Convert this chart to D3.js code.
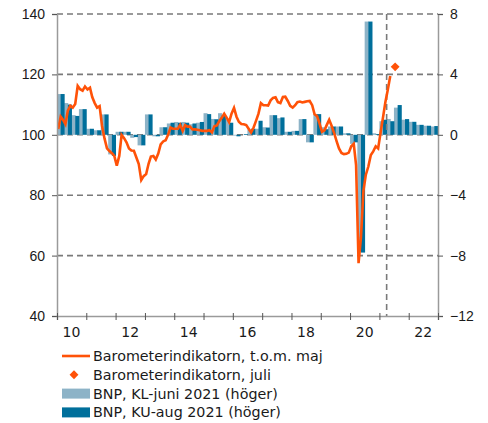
<!DOCTYPE html>
<html lang="sv">
<head>
    <meta charset="UTF-8">
    <script src="https://d3js.org/d3.v7.min.js"></script>
    <title>Barometerindikatorn och BNP</title>
    <style>
        body {
            margin: 0;
            font-family: "DejaVu Sans", Verdana, sans-serif;
            background: #fff;
        }
        .tick text {
            font-size: 14px;
            fill: #1a1a1a;
        }
        .grid line {
            stroke: #7a7a7a;
            stroke-width: 1.6;
            stroke-dasharray: 6,4;
        }
        .legend text {
            font-size: 14.3px;
            fill: #1a1a1a;
        }
    </style>
</head>
<body>
    <div id="chart"></div>

    <script>
        // Barometerindikatorn, monthly Jan 2010 - May 2021
        const barometer = [
            101.9, 106.0, 105.0, 103.5, 108.0, 109.6, 109.0, 110.2, 116.2, 115.1, 114.6, 116.0,
            115.0, 115.6, 112.5, 110.5, 109.0, 109.5, 103.0, 98.8, 95.5, 94.6, 93.9, 93.0,
            89.8, 93.0, 100.0, 98.9, 97.5, 95.5, 94.8, 94.7, 92.5, 90.3, 85.0, 86.3,
            87.0, 90.5, 92.8, 93.0, 91.8, 93.8, 96.8, 97.8, 98.2, 100.0, 102.4, 102.0,
            102.0, 102.0, 103.3, 101.3, 103.2, 102.7, 102.7, 101.8, 101.8, 101.7, 101.5, 101.3,
            101.3, 101.3, 101.5, 100.8, 102.8, 103.1, 104.5, 105.6, 107.0, 105.7, 104.2, 107.0,
            108.9, 106.0, 104.3, 103.6, 103.5, 103.2, 102.0, 100.8, 102.4, 104.6, 107.0, 110.5,
            109.8, 109.8, 109.7, 111.4, 112.2, 112.4, 110.8, 110.5, 112.5, 112.6, 111.2, 109.6,
            109.0, 109.8, 110.8, 111.0, 110.7, 110.9, 111.1, 111.2, 109.8, 106.8, 106.2, 103.8,
            101.0, 101.5, 103.2, 105.0, 103.0, 100.6, 98.0, 95.5, 94.0, 93.6, 93.7, 94.1,
            96.2, 97.0, 90.0, 57.5, 66.0, 81.5, 86.8, 89.5, 93.3, 94.5, 96.2, 95.5,
            100.8, 106.0, 110.8, 115.0, 119.5
        ];
        const barometerStart = [2010, 0];

        // Barometerindikatorn, juli 2021
        const julyPoint = { year: 2021, month: 6, value: 122.5 };

        // BNP, quarterly change in percent, 2010 Q1 - 2022 Q4
        const gdpJune = [
            2.7, 2.1, 1.3, 1.7,
            0.4, 0.3, 1.35, -1.3,
            0.2, 0.2, -0.2, -0.7,
            1.35, -0.1, 0.5, 0.75,
            0.85, 0.85, 0.7, 0.8,
            1.43, 1.05, 1.43, 1.0,
            -0.05, 0.0, 0.35, 0.4,
            0.5, 1.3, 1.1, 0.2,
            0.26, 1.04, -0.5, 1.37,
            0.5, 0.55, 0.55, 0.1,
            -0.6, -7.7, 7.5, 0.1,
            0.9, 1.05, 1.8, 1.0,
            0.86, 0.66, 0.6, 0.55
        ];
        const gdpAug = [
            2.7, 2.0, 1.25, 1.7,
            0.4, 0.3, 1.35, -1.4,
            0.2, 0.2, -0.15, -0.7,
            1.35, -0.1, 0.5, 0.8,
            0.8, 0.8, 0.75, 0.85,
            1.37, 1.03, 1.3, 0.8,
            -0.1, 0.05, 0.4, 0.93,
            0.48, 1.3, 1.15, 0.2,
            0.26, 1.04, -0.5, 1.37,
            0.37, 0.55, 0.55, 0.1,
            -0.5, -7.8, 7.5, 0.05,
            1.0, 0.9, 1.97, 1.04,
            0.86, 0.66, 0.6, 0.58
        ];
        const gdpStartYear = 2010;

        const leftTicks = [40, 60, 80, 100, 120, 140];
        const rightTicks = [-12, -8, -4, 0, 4, 8];
        const yearLabels = [2010, 2012, 2014, 2016, 2018, 2020, 2022];
        const forecastLine = new Date(2021, 3, 1);

        const legendItems = [
            "Barometerindikatorn, t.o.m. maj",
            "Barometerindikatorn, juli",
            "BNP, KL-juni 2021 (höger)",
            "BNP, KU-aug 2021 (höger)"
        ];

        const orange = "#ff5208";
        const lightBlue = "#8db3c7";
        const darkBlue = "#006f9b";
        const axisGray = "#9a9a9a";

        const W = 488, H = 423;
        const margin = { top: 14, right: 50, bottom: 107, left: 57 };
        const width = W - margin.left - margin.right;
        const height = H - margin.top - margin.bottom;

        const svg = d3.select("#chart")
            .append("svg")
            .attr("width", W)
            .attr("height", H);

        const g = svg.append("g")
            .attr("transform", `translate(${margin.left},${margin.top})`);

        const x = d3.scaleTime()
            .domain([new Date(2010, 0, 1), new Date(2023, 0, 1)])
            .range([0, width]);
        const yL = d3.scaleLinear().domain([40, 140]).range([height, 0]);
        const yR = d3.scaleLinear().domain([-12, 8]).range([height, 0]);

        // grid lines (dashed)
        g.append("g")
            .attr("class", "grid")
            .selectAll("line")
            .data(leftTicks.filter(d => d > 40))
            .join("line")
            .attr("x1", 0)
            .attr("x2", width)
            .attr("y1", d => yL(d))
            .attr("y2", d => yL(d));

        // bars
        const quarters = gdpJune.map((v, i) => {
            const yr = gdpStartYear + Math.floor(i / 4);
            const q = i % 4;
            return {
                start: new Date(yr, q * 3, 1),
                end: new Date(yr, q * 3 + 3, 1),
                june: v,
                aug: gdpAug[i]
            };
        });

        g.append("g")
            .selectAll("rect")
            .data(quarters)
            .join("rect")
            .attr("x", d => x(d.start))
            .attr("width", d => (x(d.end) - x(d.start)) * 0.56)
            .attr("y", d => yR(Math.max(0, d.june)))
            .attr("height", d => Math.abs(yR(d.june) - yR(0)))
            .attr("fill", lightBlue);

        g.append("g")
            .selectAll("rect")
            .data(quarters)
            .join("rect")
            .attr("x", d => x(d.start) + (x(d.end) - x(d.start)) * 0.5)
            .attr("width", d => (x(d.end) - x(d.start)) * 0.56)
            .attr("y", d => yR(Math.max(0, d.aug)))
            .attr("height", d => Math.abs(yR(d.aug) - yR(0)))
            .attr("fill", darkBlue);

        // vertical dashed line
        g.append("g")
            .attr("class", "grid")
            .append("line")
            .attr("x1", x(forecastLine))
            .attr("x2", x(forecastLine))
            .attr("y1", 0)
            .attr("y2", height);

        // barometer line
        const baroData = barometer.map((v, i) => ({
            date: new Date(barometerStart[0], barometerStart[1] + i, 16),
            value: v
        }));

        g.append("path")
            .datum(baroData)
            .attr("fill", "none")
            .attr("stroke", orange)
            .attr("stroke-width", 2.6)
            .attr("stroke-linejoin", "miter")
            .attr("d", d3.line().x(d => x(d.date)).y(d => yL(d.value)));

        const jx = x(new Date(julyPoint.year, julyPoint.month, 16));
        g.append("path")
            .attr("d", d3.symbol().type(d3.symbolDiamond2).size(50)())
            .attr("transform", `translate(${jx},${yL(julyPoint.value)})`)
            .attr("fill", orange);

        // axes
        const leftAxis = g.append("g")
            .call(d3.axisLeft(yL).tickValues(leftTicks).tickSize(5).tickPadding(7));
        const rightAxis = g.append("g")
            .attr("transform", `translate(${width},0)`)
            .call(d3.axisRight(yR).tickValues(rightTicks).tickSize(5).tickPadding(7));

        const yearTicks = d3.range(2010, 2024).map(y => new Date(y, 0, 1));
        const bottomAxis = g.append("g")
            .attr("transform", `translate(0,${height})`)
            .call(d3.axisBottom(x).tickValues(yearTicks).tickSize(4).tickFormat(""));
        bottomAxis.selectAll(".tick line").attr("y1", -3);

        g.append("g")
            .attr("transform", `translate(0,${height})`)
            .selectAll("text")
            .data(yearLabels)
            .join("text")
            .attr("x", d => x(new Date(d, 6, 1)))
            .attr("y", 21)
            .attr("text-anchor", "middle")
            .style("font-size", "14px")
            .style("fill", "#1a1a1a")
            .text(d => String(d).slice(2));

        [leftAxis, rightAxis, bottomAxis].forEach(a => {
            a.select(".domain").attr("stroke", axisGray).attr("stroke-width", 1.5);
            a.selectAll(".tick line").attr("stroke", "#555");
        });

        // legend
        const legend = svg.append("g").attr("class", "legend")
            .attr("transform", "translate(62,356)");
        const rowGap = 18.8;

        legend.append("line")
            .attr("x1", 0).attr("x2", 28)
            .attr("y1", 0).attr("y2", 0)
            .attr("stroke", orange).attr("stroke-width", 2.6);
        legend.append("path")
            .attr("d", d3.symbol().type(d3.symbolDiamond2).size(50)())
            .attr("transform", `translate(12,${rowGap})`)
            .attr("fill", orange);
        legend.append("rect")
            .attr("x", 0).attr("y", rowGap * 2 - 5)
            .attr("width", 28).attr("height", 10)
            .attr("fill", lightBlue);
        legend.append("rect")
            .attr("x", 0).attr("y", rowGap * 3 - 5)
            .attr("width", 28).attr("height", 10)
            .attr("fill", darkBlue);

        legend.selectAll("text")
            .data(legendItems)
            .join("text")
            .attr("x", 31)
            .attr("y", (d, i) => i * rowGap + 5)
            .text(d => d);
    </script>
</body>
</html>
